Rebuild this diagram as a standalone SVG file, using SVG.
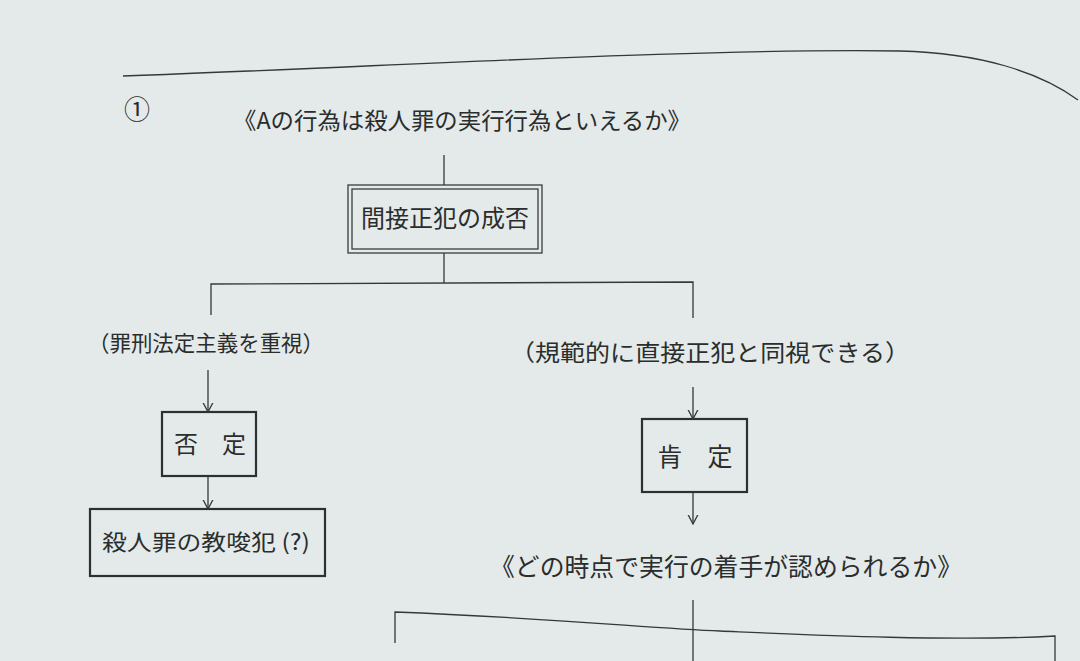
<svg xmlns="http://www.w3.org/2000/svg" width="1080" height="661" viewBox="0 0 1080 661">
<defs>
<style>
.t{font-family:"Noto Sans CJK JP","Noto Sans CJK SC",sans-serif;fill:#2b2d2d;}
.ln{fill:none;stroke:#353838;stroke-width:1.3;}
.box{fill:none;stroke:#2e3030;stroke-width:2.2;}
.dbl{fill:none;stroke:#3a3c3c;stroke-width:1.3;}
</style>
<marker id="arr" viewBox="0 0 10 12" refX="9.5" refY="6" markerWidth="10" markerHeight="12" markerUnits="userSpaceOnUse" orient="auto">
<path d="M0,1 L9.5,6 L0,11" fill="none" stroke="#353838" stroke-width="1.3"/>
</marker>
</defs>
<rect width="1080" height="661" fill="#e3eae9"/>
<g id="page-rules">
<path class="ln" d="M123,76 C 400,66 700,48 900,51 C 980,53 1040,72 1078,100"/>
</g>
<g id="label-num">
<text class="t" x="137" y="119" font-size="26" text-anchor="middle">①</text>
</g>
<g id="title">
<text class="t" x="233" y="129" font-size="23" textLength="458" lengthAdjust="spacingAndGlyphs">《Aの行為は殺人罪の実行行為といえるか》</text>
</g>
<g id="node-kansetsu">
<rect class="dbl" x="348" y="185" width="194" height="68"/>
<rect class="dbl" x="352" y="189" width="186" height="60"/>
<text class="t" x="445" y="227" font-size="24" text-anchor="middle" textLength="168" lengthAdjust="spacingAndGlyphs">間接正犯の成否</text>
</g>
<g id="label-left">
<text class="t" x="88" y="351" font-size="22" textLength="236" lengthAdjust="spacingAndGlyphs">（罪刑法定主義を重視）</text>
</g>
<g id="label-right">
<text class="t" x="510" y="361" font-size="23" textLength="400" lengthAdjust="spacingAndGlyphs">（規範的に直接正犯と同視できる）</text>
</g>
<g id="node-hitei">
<rect class="box" x="162" y="412" width="94" height="64"/>
<text class="t" x="210" y="453" font-size="24" text-anchor="middle">否　定</text>
</g>
<g id="node-kyousa">
<rect class="box" x="90" y="509" width="235" height="67"/>
<text class="t" x="102" y="550" font-size="22" textLength="208" lengthAdjust="spacingAndGlyphs">殺人罪の教唆犯 (?)</text>
</g>
<g id="node-koutei">
<rect class="box" x="642" y="419" width="105" height="73" stroke-width="2.6"/>
<text class="t" x="695" y="466" font-size="25" text-anchor="middle">肯　定</text>
</g>
<g id="question2">
<text class="t" x="490" y="576" font-size="25" textLength="472" lengthAdjust="spacingAndGlyphs">《どの時点で実行の着手が認められるか》</text>
</g>
<g id="connectors">
<line class="ln" x1="444" y1="155" x2="444" y2="185"/>
<line class="ln" x1="444" y1="253" x2="444" y2="283"/>
<path class="ln" d="M211,315 L211,284 L693,282 L693,318"/>
<line class="ln" x1="208" y1="370" x2="208" y2="412" marker-end="url(#arr)"/>
<line class="ln" x1="208" y1="476" x2="208" y2="509" marker-end="url(#arr)"/>
<line class="ln" x1="693" y1="387" x2="693" y2="419" marker-end="url(#arr)"/>
<line class="ln" x1="693" y1="492" x2="693" y2="524" marker-end="url(#arr)"/>
<line class="ln" x1="693" y1="600" x2="693" y2="661"/>
<path class="ln" d="M395,643 L395,612 C 550,618 650,628 720,631 S 950,642 1055,636 L1055,661"/>
</g>
</svg>
